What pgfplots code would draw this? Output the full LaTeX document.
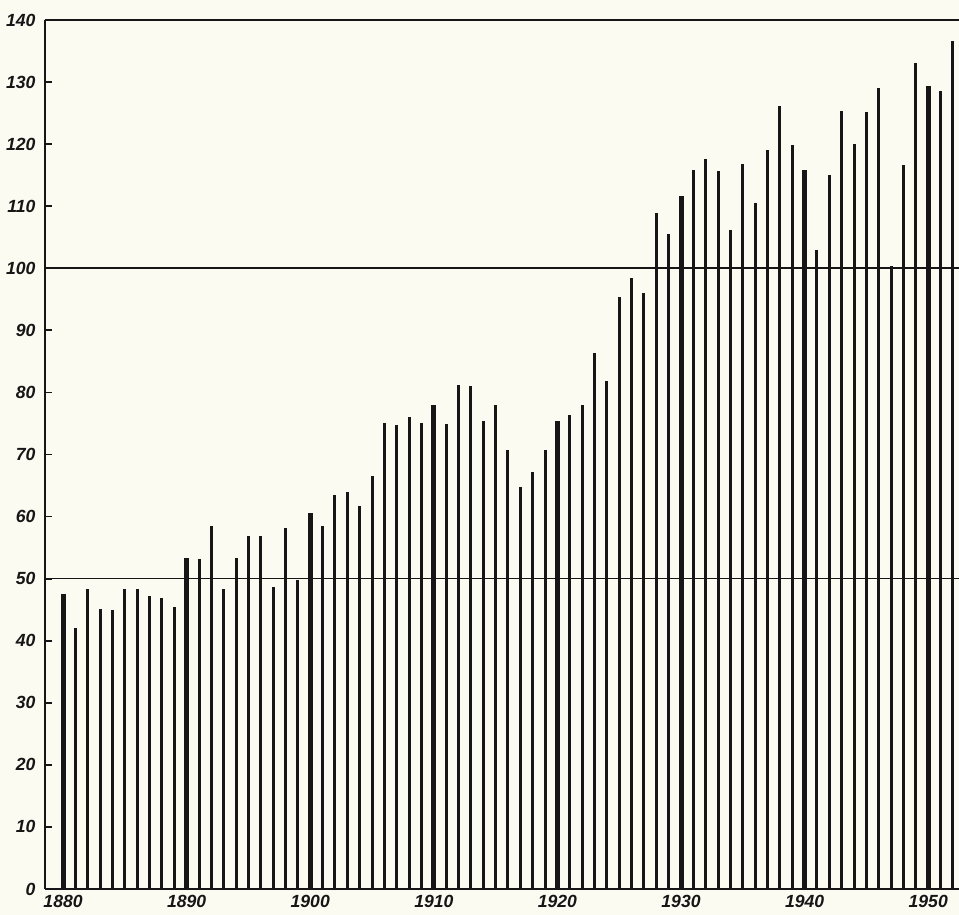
\documentclass[border=0pt]{standalone}
\usepackage{fontspec}
\setmainfont{Liberation Sans}
\usepackage{pgfplots}
\usepackage{pgfplotstable}
\pgfplotsset{compat=1.18}
\definecolor{paper}{RGB}{252,251,242}
\definecolor{ink}{RGB}{22,22,22}
\pgfplotstableread{
year value
1881 42.1
1882 48.3
1883 45.1
1884 44.9
1885 48.4
1886 48.4
1887 47.2
1888 46.9
1889 45.4
1891 53.1
1892 58.4
1893 48.4
1894 53.4
1895 56.8
1896 56.9
1897 48.6
1898 58.2
1899 49.8
1901 58.4
1902 63.4
1903 64.0
1904 61.7
1905 66.6
1906 75.0
1907 74.8
1908 76.0
1909 75.0
1911 74.9
1912 81.2
1913 81.1
1914 75.4
1915 78.0
1916 70.7
1917 64.7
1918 67.1
1919 70.7
1921 76.4
1922 77.9
1923 86.4
1924 81.8
1925 95.3
1926 98.4
1927 96.0
1928 108.9
1929 105.5
1931 115.9
1932 117.6
1933 115.6
1934 106.2
1935 116.8
1936 110.5
1937 119.0
1938 126.1
1939 119.8
1941 103.0
1942 115.0
1943 125.3
1944 120.0
1945 125.2
1946 129.0
1947 100.3
1948 116.7
1949 133.0
1951 128.5
1952 136.6
}\annual
\pgfplotstableread{
year value
1880 47.6
1890 53.4
1900 60.5
1910 77.9
1920 75.4
1930 111.7
1940 115.8
1950 129.4
}\decades
\begin{document}
\begin{tikzpicture}
\fill[paper] (-22.5pt,-13pt) rectangle (457pt,444.5pt);
\begin{axis}[
  at={(0pt,0pt)}, anchor=south west,
  scale only axis, width=457pt, height=434.5pt,
  xmin=1878.54, xmax=1952.49, ymin=0, ymax=140,
  axis x line*=bottom, axis y line*=left,
  axis line style={ink, line width=0.8pt},
  ytick={0,10,...,140},
  xtick={1880,1890,...,1950},
  x tick style={draw=none},
  y tick style={ink, line width=0.9pt},
  tick align=inside,
  major tick length=3.6pt,
  extra y ticks={50,100,140},
  extra y tick labels={},
  extra y tick style={grid=major, major grid style={ink, line width=0.8pt}, major tick length=0pt},
  /pgf/number format/assume math mode=true,
  /pgf/number format/1000 sep={},
  ticklabel style={font=\fontsize{8.8}{10}\selectfont\bfseries\itshape, text=ink},
  xticklabel style={yshift=0.3pt},
  yticklabel style={xshift=-1.2pt},
  clip=false,
]
\addplot[ycomb, ink, line width=1.5pt, mark=none] table[x=year, y=value] {\annual};
\addplot[ycomb, ink, line width=2.5pt, mark=none] table[x=year, y=value] {\decades};
\end{axis}
\pgfresetboundingbox
\path (-22.5pt,-13pt) rectangle (457pt,444.5pt);
\end{tikzpicture}
\end{document}
